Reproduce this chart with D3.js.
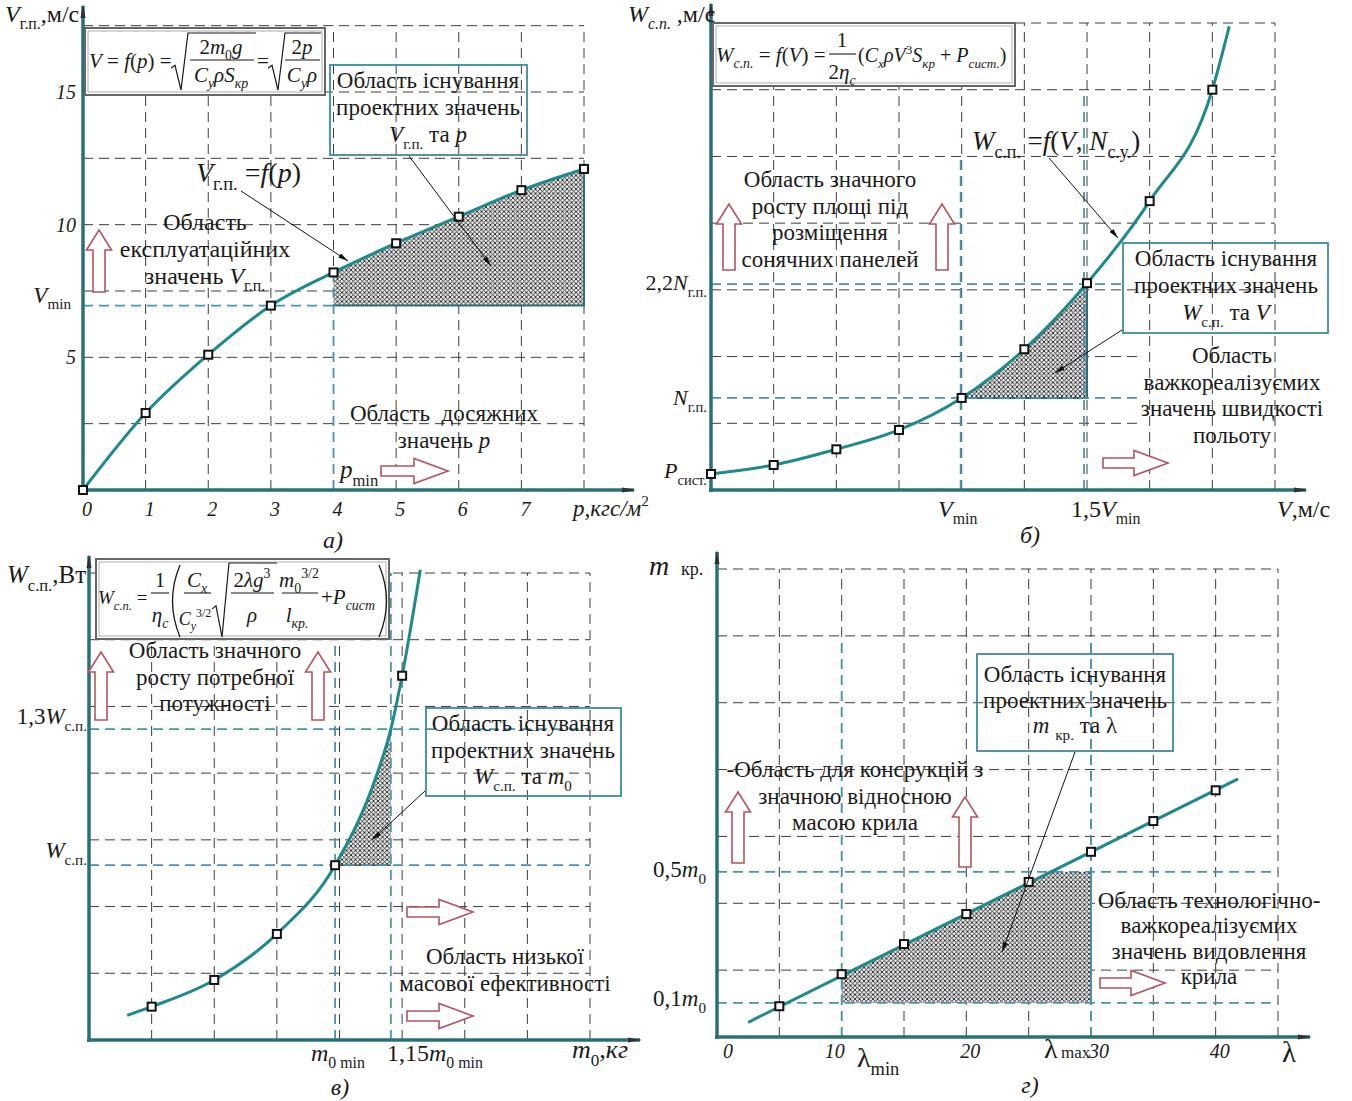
<!DOCTYPE html>
<html>
<head>
<meta charset="utf-8">
<script src="https://cdn.jsdelivr.net/npm/d3@7"></script>
<style>
  body { margin: 0; background: #fff; }
  text { font-family: "Liberation Serif", "Times New Roman", serif; fill: #1a1a1a; }
</style>
</head>
<body>
<svg id="chart" width="1352" height="1101"></svg>
<script>
// а) V = f(p)
const pA = [0, 1, 2, 3, 4, 5, 6, 7, 8];
const vA = [0, 2.9, 5.1, 6.95, 8.2, 9.3, 10.3, 11.3, 12.1];
const xTicksA = [0, 1, 2, 3, 4, 5, 6, 7];
const yTicksA = [5, 10, 15];
const gridXA = [1, 2, 3, 4, 5, 6, 7, 8];
const gridYA = [2.5, 5, 7.5, 10, 12.5, 15, 17.5];
const vMinA = 6.95;
const pMinA = 4;

// б) W = f(V)
const vB = [0, 1, 2, 3, 4, 5, 6, 7, 8];
const wB = [0.24, 0.375, 0.61, 0.9, 1.38, 2.11, 3.1, 4.33, 6.0];
const tailVB = 8.27, tailWB = 6.95;
const gridXB = [1, 2, 3, 4, 5, 6, 7, 8, 9];
const gridYB = [1, 2, 3, 4, 5, 6, 7];
const vMinB = 4, v15B = 6;
const nB = 1.38, n22B = 3.1, pSysB = 0.24;

// в) W = f(m0)
const mC = [1, 2, 3, 3.93, 5.0];
const wC = [0.5, 0.9, 1.59, 2.62, 5.46];
const curveMC = [0.61, 1, 2, 3, 3.93, 4.6, 4.82, 5.0, 5.29];
const curveWC = [0.37, 0.5, 0.9, 1.59, 2.62, 3.99, 4.66, 5.46, 7.05];
const gridXC = [1, 2, 3, 4, 5, 6, 7, 8];
const gridYC = [1, 2, 3, 4, 5, 6, 7];
const m0MinC = 3.93, m015C = 4.82;
const wSpC = 2.62, w13C = 4.66;

// г) m кр = f(λ)
const lamD = [5, 10, 15, 20, 25, 30, 35, 40];
const mD = [0.46, 0.94, 1.39, 1.84, 2.32, 2.77, 3.23, 3.69];
const lineLamD = [2.5, 41.8];
const lineMD = [0.22, 3.86];
const xTicksD = [0, 10, 20, 30, 40];
const gridXD = [5, 10, 15, 20, 25, 30, 35, 40, 45];
const gridYD = [1, 2, 3, 4, 5, 6, 7];
const lamMinD = 10, lamMaxD = 30;
const m01D = 0.51, m05D = 2.47;

const C = {
  axis: "#2b7079", curve: "#1f8a8c", grid: "#3c3c3c", blue: "#4a93ad",
  box: "#3f8c98", red: "#b4545e", ink: "#1a1a1a", hatch: "#2a2a2a"
};

const svg = d3.select("#chart");
const defs = svg.append("defs");

// crosshatch fill
const pat = defs.append("pattern").attr("id", "hatch")
  .attr("patternUnits", "userSpaceOnUse").attr("width", 4.5).attr("height", 4.5);
pat.append("rect").attr("width", 4.5).attr("height", 4.5).attr("fill", "#e6e6e6");
pat.append("path").attr("d", "M0,0 L4.5,4.5 M4.5,0 L0,4.5 M-1,3.5 L1,5.5 M3.5,-1 L5.5,1")
  .attr("stroke", C.hatch).attr("stroke-width", 0.9);

defs.append("marker").attr("id", "axisArrow")
  .attr("viewBox", "0 -4 14 8").attr("refX", 12).attr("refY", 0)
  .attr("markerWidth", 14).attr("markerHeight", 8)
  .attr("markerUnits", "userSpaceOnUse").attr("orient", "auto")
  .append("path").attr("d", "M0,-2.5 L14,0 L0,2.5 Z").attr("fill", "#333");

defs.append("marker").attr("id", "tip")
  .attr("viewBox", "0 -3 10 6").attr("refX", 10).attr("refY", 0)
  .attr("markerWidth", 10).attr("markerHeight", 6)
  .attr("markerUnits", "userSpaceOnUse").attr("orient", "auto")
  .append("path").attr("d", "M0,-2.5 L10,0 L0,2.5 Z").attr("fill", "#111");

// scales
const xA = d3.scaleLinear().domain([0, 8]).range([83, 584]);
const yA = d3.scaleLinear().domain([0, 15]).range([490, 92]);
const xB = d3.scaleLinear().domain([0, 9]).range([711, 1275]);
const yB = d3.scaleLinear().domain([0, 7]).range([490, 23]);
const xC = d3.scaleLinear().domain([0, 8]).range([89, 590]);
const yC = d3.scaleLinear().domain([0, 7]).range([1040, 573]);
const xD = d3.scaleLinear().domain([0, 45]).range([717, 1278]);
const yD = d3.scaleLinear().domain([0, 7]).range([1037, 569]);

// *..* italic, _{..} subscript, ^{..} superscript
function rich(t, str, fs) {
  let ital = false, lvl = 0, shift = 0, buf = "";
  const flush = () => {
    if (!buf) return;
    const target = lvl < 0 ? fs * 0.3 : lvl > 0 ? -fs * 0.42 : 0;
    t.append("tspan")
      .attr("dy", target - shift)
      .attr("font-style", ital ? "italic" : "normal")
      .attr("font-size", lvl ? fs * 0.66 : fs)
      .text(buf);
    shift = target;
    buf = "";
  };
  for (let i = 0; i < str.length; i++) {
    const c = str[i];
    if (c === "*") { flush(); ital = !ital; }
    else if ((c === "_" || c === "^") && str[i + 1] === "{") { flush(); lvl = c === "_" ? -1 : 1; i++; }
    else if (c === "}") { flush(); lvl = 0; }
    else buf += c;
  }
  flush();
  return t;
}

function label(g, x, y, str, fs, anchor) {
  const t = g.append("text").attr("x", x).attr("y", y)
    .attr("font-size", fs).attr("text-anchor", anchor || "start")
    .attr("xml:space", "preserve");
  return rich(t, str, fs);
}

function textLines(g, cx, y0, step, arr, fs) {
  arr.forEach((s, i) => label(g, cx, y0 + i * step, s, fs, "middle"));
}

function drawGrid(g, x, y, gx, gy, top, right, shortRows, shortEnd) {
  g.append("g").selectAll("line").data(gx).join("line")
    .attr("x1", d => x(d)).attr("x2", d => x(d))
    .attr("y1", y(0)).attr("y2", y(top))
    .attr("stroke", C.grid).attr("stroke-width", 1).attr("stroke-dasharray", "10,6");
  g.append("g").selectAll("line").data(gy).join("line")
    .attr("x1", x(0))
    .attr("x2", d => (shortRows && shortRows.includes(d)) ? x(shortEnd) : x(right))
    .attr("y1", d => y(d)).attr("y2", d => y(d))
    .attr("stroke", C.grid).attr("stroke-width", 1).attr("stroke-dasharray", "10,6");
}

function blueLine(g, x1, y1, x2, y2) {
  g.append("line").attr("x1", x1).attr("y1", y1).attr("x2", x2).attr("y2", y2)
    .attr("stroke", C.blue).attr("stroke-width", 1.8).attr("stroke-dasharray", "10,6");
}

function drawAxes(g, x, y, xEnd, yEnd) {
  g.append("line").attr("x1", x(0) - 2).attr("y1", y(0)).attr("x2", xEnd).attr("y2", y(0))
    .attr("stroke", C.axis).attr("stroke-width", 3.5).attr("marker-end", "url(#axisArrow)");
  g.append("line").attr("x1", x(0)).attr("y1", y(0) + 2).attr("x2", x(0)).attr("y2", yEnd)
    .attr("stroke", C.axis).attr("stroke-width", 3.5).attr("marker-end", "url(#axisArrow)");
}

function squares(g, x, y, xs, ys) {
  g.append("g").selectAll("rect").data(xs).join("rect")
    .attr("x", d => x(d) - 4).attr("y", (d, i) => y(ys[i]) - 4)
    .attr("width", 8).attr("height", 8)
    .attr("fill", "#fff").attr("stroke", "#111").attr("stroke-width", 2);
}

function pointer(g, x1, y1, x2, y2) {
  g.append("line").attr("x1", x1).attr("y1", y1).attr("x2", x2).attr("y2", y2)
    .attr("stroke", "#111").attr("stroke-width", 1).attr("marker-end", "url(#tip)");
}

function hollowUp(g, x, yBot, yTop) {
  const s = 6, h = 12.5, hl = 20;
  const pts = [[x - s, yBot], [x - s, yTop + hl], [x - h, yTop + hl], [x, yTop],
               [x + h, yTop + hl], [x + s, yTop + hl], [x + s, yBot]];
  g.append("polygon").attr("points", pts.join(" "))
    .attr("fill", "#fff").attr("stroke", C.red).attr("stroke-width", 1.6);
}

function hollowRight(g, xL, xR, y) {
  const s = 5, h = 12.5, hl = 34;
  const pts = [[xL, y - s], [xR - hl, y - s], [xR - hl, y - h], [xR, y],
               [xR - hl, y + h], [xR - hl, y + s], [xL, y + s]];
  g.append("polygon").attr("points", pts.join(" "))
    .attr("fill", "#fff").attr("stroke", C.red).attr("stroke-width", 1.6);
}

function tealBox(g, x, y, w, h) {
  g.append("rect").attr("x", x).attr("y", y).attr("width", w).attr("height", h)
    .attr("fill", "none").attr("stroke", C.box).attr("stroke-width", 1.8);
}

function formulaBox(g, x, y, w, h) {
  g.append("rect").attr("x", x).attr("y", y).attr("width", w).attr("height", h)
    .attr("fill", "#fff").attr("stroke", "#666").attr("stroke-width", 2);
  g.append("rect").attr("x", x + 3).attr("y", y + 3).attr("width", w - 6).attr("height", h - 6)
    .attr("fill", "none").attr("stroke", "#999").attr("stroke-width", 0.8);
}

function hLine(g, x1, x2, y) {
  g.append("line").attr("x1", x1).attr("x2", x2).attr("y1", y).attr("y2", y)
    .attr("stroke", C.ink).attr("stroke-width", 1.1);
}

function sqrtSign(g, x0, yTop, yBot, x1) {
  const ym = yBot - (yBot - yTop) * 0.38;
  g.append("path")
    .attr("d", `M${x0},${ym} L${x0 + 4},${ym - 3} L${x0 + 10},${yBot} L${x0 + 17},${yTop} L${x1},${yTop}`)
    .attr("fill", "none").attr("stroke", C.ink).attr("stroke-width", 1.2);
}

function clipX(id, x1, x2) {
  defs.append("clipPath").attr("id", id).append("rect")
    .attr("x", x1).attr("y", 0).attr("width", x2 - x1).attr("height", 1101);
}

// ---------------------------------------------------------------- panel а
const gA = svg.append("g");
drawGrid(gA, xA, yA, gridXA, gridYA, 17.5, 8);

const lineA = d3.line().x(d => xA(d[0])).y(d => yA(d[1])).curve(d3.curveMonotoneX);
const ptsA = pA.map((p, i) => [p, vA[i]]);
clipX("clipA", xA(pMinA), xA(8));
gA.append("path").datum(ptsA)
  .attr("d", d3.area().x(d => xA(d[0])).y0(yA(vMinA)).y1(d => yA(d[1])).curve(d3.curveMonotoneX))
  .attr("fill", "url(#hatch)").attr("clip-path", "url(#clipA)");
gA.append("path").attr("d", `M${xA(pMinA)},${yA(vMinA)} H${xA(8)} V${yA(vA[8])}`)
  .attr("fill", "none").attr("stroke", C.axis).attr("stroke-width", 2);

blueLine(gA, xA(0), yA(vMinA), xA(pMinA), yA(vMinA));
blueLine(gA, xA(pMinA), yA(0), xA(pMinA), yA(vA[4]));

gA.append("path").datum(ptsA).attr("d", lineA)
  .attr("fill", "none").attr("stroke", C.curve).attr("stroke-width", 3);
drawAxes(gA, xA, yA, 634, 6);
squares(gA, xA, yA, pA, vA);

gA.selectAll(".ya").data(yTicksA).join("text").attr("class", "ya")
  .attr("x", xA(0) - 7).attr("y", d => yA(d) + 7).attr("text-anchor", "end")
  .attr("font-size", 20).attr("font-style", "italic").text(d => d);
gA.selectAll(".xa").data(xTicksA).join("text").attr("class", "xa")
  .attr("x", d => xA(d) + 4).attr("y", yA(0) + 26).attr("text-anchor", "middle")
  .attr("font-size", 20).attr("font-style", "italic").text(d => d);
label(gA, 5, 22, "*V*_{г.п.},м/с", 24);
label(gA, 71, yA(vMinA) - 3, "*V*_{min}", 23, "end");
label(gA, 573, yA(0) + 26, "*p,кгс/м*^{2}", 23);
label(gA, 333, 548, "*а)*", 24, "middle");

formulaBox(gA, 85, 28, 240, 67);
label(gA, 89, 68, "*V* = *f*(*p*) =", 21);
sqrtSign(gA, 171, 33, 90, 256);
label(gA, 221, 54, "2*m*_{0}*g*", 21, "middle");
hLine(gA, 190, 254, 60);
label(gA, 221, 82, "*C*_{*y*}*ρS*_{*кр*}", 21, "middle");
label(gA, 257, 68, "=", 21);
sqrtSign(gA, 268, 33, 90, 321);
label(gA, 302, 54, "2*p*", 21, "middle");
hLine(gA, 285, 320, 60);
label(gA, 302, 82, "*C*_{*y*}*ρ*", 21, "middle");

tealBox(gA, 330, 65, 197, 90);
textLines(gA, 428, 88, 27, ["Область існування", "проектних значень", "*V*_{г.п.} та *p*"], 23);
label(gA, 196, 182, "*V*_{г.п.} =*f*(*p*)", 28);
pointer(gA, 241, 191, 348, 261);
pointer(gA, 409, 156, 491, 266);
textLines(gA, 205, 230, 27, ["Область", "експлуатаційних", "значень *V*_{г.п.}"], 24);
hollowUp(gA, 99, 292, 230);
textLines(gA, 444, 421, 27, ["Область  досяжних", "значень *p*"], 23);
label(gA, 340, 478, "*p*_{min}", 25);
hollowRight(gA, 381, 448, 471);

// ---------------------------------------------------------------- panel б
const gB = svg.append("g");
drawGrid(gB, xB, yB, gridXB, gridYB, 7, 9, [1, 2], 6.85);

const ptsB = vB.map((v, i) => [v, wB[i]]).concat([[tailVB, tailWB]]);
const lineB = d3.line().x(d => xB(d[0])).y(d => yB(d[1])).curve(d3.curveMonotoneX);
clipX("clipB", xB(vMinB), xB(v15B));
gB.append("path").datum(ptsB)
  .attr("d", d3.area().x(d => xB(d[0])).y0(yB(nB)).y1(d => yB(d[1])).curve(d3.curveMonotoneX))
  .attr("fill", "url(#hatch)").attr("clip-path", "url(#clipB)");
gB.append("path").attr("d", `M${xB(vMinB)},${yB(nB)} H${xB(v15B)} V${yB(n22B)}`)
  .attr("fill", "none").attr("stroke", C.axis).attr("stroke-width", 2);

blueLine(gB, xB(0), yB(nB), xB(6.8), yB(nB));
blueLine(gB, xB(0), yB(n22B) + 1, xB(6.6), yB(n22B) + 1);
blueLine(gB, xB(vMinB) - 1, yB(0), xB(vMinB) - 1, yB(5));
blueLine(gB, xB(v15B) - 3, yB(0), xB(v15B) - 3, yB(6));

gB.append("path").datum(ptsB).attr("d", lineB)
  .attr("fill", "none").attr("stroke", C.curve).attr("stroke-width", 3);
drawAxes(gB, xB, yB, 1306, 4);
squares(gB, xB, yB, vB, wB);

label(gB, 628, 22, "*W*_{*с.п.*} ,м/с", 24);
label(gB, 707, yB(n22B) + 7, "2,2*N*_{г.п.}", 22, "end");
label(gB, 707, yB(nB) + 7, "*N*_{г.п.}", 22, "end");
label(gB, 707, yB(pSysB) + 4, "*P*_{сист.}", 22, "end");
label(gB, 938, 517, "*V*_{min}", 24);
label(gB, 1071, 517, "1,5*V*_{min}", 24);
label(gB, 1277, 517, "*V*,м/с", 24);
label(gB, 1030, 543, "*б)*", 24, "middle");

formulaBox(gB, 713, 23, 302, 63);
label(gB, 716, 62, "*W*_{*с.п.*} = *f*(*V*) =", 21);
label(gB, 842, 47, "1", 21, "middle");
hLine(gB, 829, 856, 54);
label(gB, 842, 79, "2*η*_{*c*}", 21, "middle");
label(gB, 858, 62, "(*C*_{*x*}*ρV*^{3}*S*_{*кр*} + *P*_{*сист.*})", 20);

textLines(gB, 830, 187, 26.5, ["Область значного", "росту площі під", "розміщення", "сонячних панелей"], 23);
hollowUp(gB, 729, 270, 204);
hollowUp(gB, 942, 270, 204);
label(gB, 972, 150, "*W*_{с.п.} =*f*(*V*, *N*_{с.у.})", 27);
pointer(gB, 1049, 158, 1118, 238);
tealBox(gB, 1123, 243, 205, 90);
textLines(gB, 1226, 266, 27, ["Область існування", "проектних значень", "*W*_{с.п.} та *V*"], 23);
pointer(gB, 1122, 330, 1055, 373);
textLines(gB, 1232, 363, 26.7, ["Область", "важкореалізуємих", "значень швидкості", "польоту"], 23);
hollowRight(gB, 1103, 1168, 463);

// ---------------------------------------------------------------- panel в
const gC = svg.append("g");
drawGrid(gC, xC, yC, gridXC, gridYC, 7, 8);

const ptsC = curveMC.map((m, i) => [m, curveWC[i]]);
const lineC = d3.line().x(d => xC(d[0])).y(d => yC(d[1])).curve(d3.curveMonotoneX);
clipX("clipC", xC(m0MinC), xC(m015C));
gC.append("path").datum(ptsC)
  .attr("d", d3.area().x(d => xC(d[0])).y0(yC(wSpC)).y1(d => yC(d[1])).curve(d3.curveMonotoneX))
  .attr("fill", "url(#hatch)").attr("clip-path", "url(#clipC)");
gC.append("line").attr("x1", xC(m0MinC)).attr("x2", xC(m015C)).attr("y1", yC(wSpC)).attr("y2", yC(wSpC))
  .attr("stroke", "#555").attr("stroke-width", 1.5);

blueLine(gC, xC(0), yC(wSpC), xC(8), yC(wSpC));
blueLine(gC, xC(0), yC(w13C), xC(8), yC(w13C));
blueLine(gC, xC(m0MinC), yC(0), xC(m0MinC), yC(7));
blueLine(gC, xC(m015C), yC(0), xC(m015C), yC(7));

gC.append("path").datum(ptsC).attr("d", lineC)
  .attr("fill", "none").attr("stroke", C.curve).attr("stroke-width", 3);
drawAxes(gC, xC, yC, 640, 556);
squares(gC, xC, yC, mC, wC);

label(gC, 7, 583, "*W*_{с.п.},Вт", 25);
label(gC, 87, yC(w13C) - 5, "1,3*W*_{с.п.}", 23, "end");
label(gC, 87, yC(wSpC) - 7, "*W*_{с.п.}", 23, "end");
label(gC, 311, 1061, "*m*_{0 min}", 24);
label(gC, 387, 1061, "1,15*m*_{0 min}", 24);
label(gC, 572, 1058, "*m*_{0},*кг*", 26);
label(gC, 340, 1095, "*в)*", 24, "middle");

formulaBox(gC, 96, 559, 293, 80);
label(gC, 98, 604, "*W*_{*с.п.*} =", 19);
label(gC, 160, 587, "1", 21, "middle");
hLine(gC, 151, 169, 593);
label(gC, 160, 622, "*η*_{*c*}", 21, "middle");
gC.append("path").attr("d", "M180,565 Q165,601 180,637").attr("fill", "none").attr("stroke", C.ink).attr("stroke-width", 1.3);
label(gC, 197, 587, "*C*_{*x*}", 21, "middle");
hLine(gC, 184, 211, 593);
label(gC, 195, 625, "*C*_{*y*}^{3/2}", 18, "middle");
sqrtSign(gC, 212, 563, 637, 277);
label(gC, 252, 587, "2*λg*^{3}", 21, "middle");
hLine(gC, 231, 274, 593);
label(gC, 252, 622, "*ρ*", 21, "middle");
label(gC, 299, 587, "*m*_{0}^{3/2}", 21, "middle");
hLine(gC, 282, 318, 593);
label(gC, 297, 622, "*l*_{*кр.*}", 21, "middle");
label(gC, 321, 604, "+*P*_{*сист*}", 21);
gC.append("path").attr("d", "M379,565 Q394,601 379,637").attr("fill", "none").attr("stroke", C.ink).attr("stroke-width", 1.3);

textLines(gC, 215, 658, 26.5, ["Область значного", "росту потребної", "потужності"], 23);
hollowUp(gC, 101, 720, 652);
hollowUp(gC, 318, 720, 652);
tealBox(gC, 426, 708, 195, 88);
textLines(gC, 523, 731, 26.5, ["Область існування", "проектних значень", "*W*_{с.п.} та *m*_{0}"], 23);
pointer(gC, 425, 791, 372, 840);
hollowRight(gC, 407, 473, 912);
textLines(gC, 505, 964, 27, ["Область низької", "масової ефективності"], 23);
hollowRight(gC, 407, 473, 1016);

// ---------------------------------------------------------------- panel г
const gD = svg.append("g");
drawGrid(gD, xD, yD, gridXD, gridYD, 7, 45);

const lamAt05 = d3.scaleLinear().domain(mD).range(lamD)(m05D);
const hatchD = [[lamMinD, m01D], [lamMinD, mD[lamD.indexOf(lamMinD)]], [lamAt05, m05D], [lamMaxD, m05D], [lamMaxD, m01D]];
gD.append("path").datum(hatchD)
  .attr("d", d3.line().x(d => xD(d[0])).y(d => yD(d[1])))
  .attr("fill", "url(#hatch)").attr("stroke", "none");
gD.append("line").attr("x1", xD(lamMaxD)).attr("x2", xD(lamMaxD)).attr("y1", yD(m01D)).attr("y2", yD(m05D))
  .attr("stroke", C.axis).attr("stroke-width", 1.5);

blueLine(gD, xD(0), yD(m05D), xD(45), yD(m05D));
blueLine(gD, xD(0), yD(m01D), xD(45), yD(m01D));
blueLine(gD, xD(lamMinD), yD(0), xD(lamMinD), yD(5.9));
blueLine(gD, xD(lamMaxD), yD(0), xD(lamMaxD), yD(5.9));

const ptsD = lineLamD.map((l, i) => [l, lineMD[i]]);
gD.append("path").datum(ptsD).attr("d", d3.line().x(d => xD(d[0])).y(d => yD(d[1])))
  .attr("fill", "none").attr("stroke", C.curve).attr("stroke-width", 3);
drawAxes(gD, xD, yD, 1310, 552);
squares(gD, xD, yD, lamD, mD);

gD.selectAll(".xd").data(xTicksD).join("text").attr("class", "xd")
  .attr("x", d => xD(d) + (d === 0 ? 11 : d === 10 ? -7 : d === 30 ? 8 : 4))
  .attr("y", 1058).attr("text-anchor", "middle")
  .attr("font-size", 20).attr("font-style", "italic").text(d => d);
label(gD, 649, 575, "*m*", 28);
label(gD, 681, 575, "кр.", 18);
label(gD, 706, yD(m05D) + 5, "0,5*m*_{0}", 23, "end");
label(gD, 706, yD(m01D) + 3, "0,1*m*_{0}", 23, "end");
label(gD, 857, 1067, "λ_{min}", 28);
label(gD, 1044, 1058, "λ", 28);
label(gD, 1061, 1058, "max", 17);
label(gD, 1282, 1062, "λ", 29);
label(gD, 1030, 1093, "*г)*", 24, "middle");

tealBox(gD, 977, 654, 196, 97);
textLines(gD, 1075, 682, 25.5, ["Область існування", "проектних значень", "*m* _{кр.} та λ"], 23);
pointer(gD, 1075, 752, 1002, 952);
textLines(gD, 855, 777, 26.5, ["-Область для консрукцій з", "значною відносною", "масою крила"], 23);
hollowUp(gD, 738, 863, 792);
hollowUp(gD, 965, 867, 797);
textLines(gD, 1209, 908, 25.3, ["Область технологічно-", "важкореалізуємих", "значень видовлення", "крила"], 23);
hollowRight(gD, 1100, 1165, 983);
</script>
</body>
</html>
